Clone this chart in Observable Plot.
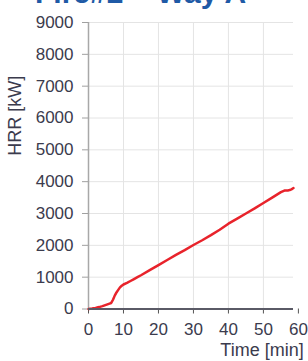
<!DOCTYPE html>
<html><head><meta charset="utf-8">
<script src="https://cdn.jsdelivr.net/npm/d3@7"></script>
<script src="https://cdn.jsdelivr.net/npm/@observablehq/plot@0.6"></script>
<style>
html,body{margin:0;background:#fff;overflow:hidden;width:308px;height:361px;font-family:"Liberation Sans",Arial,sans-serif}
#wrap{position:relative;width:308px;height:361px;overflow:hidden}
#title{position:absolute;left:35px;top:-24px;font:bold 30px "Liberation Sans",Arial,sans-serif;color:#1f5aa6;white-space:nowrap;z-index:2}
#chart{position:absolute;left:0;top:0;width:308px;height:361px}
</style></head><body><div id="wrap"><div id="title"></div><div id="chart"></div></div>
<script>
const title = "Fire#2 – Way A";
const xLabel = "Time [min]";
const yLabel = "HRR [kW]";
const xTicks = [0, 10, 20, 30, 40, 50, 60];
const yTicks = [0, 1000, 2000, 3000, 4000, 5000, 6000, 7000, 8000, 9000];
const timeMin = [0, 1, 2, 3, 4, 5, 6, 6.5, 7, 7.5, 8, 8.5, 9, 9.5, 10, 11, 12, 13, 14, 15, 17.5, 20, 22.5, 25, 27.5, 30, 32.5, 35, 37.5, 40, 42.5, 45, 47.5, 50, 52.5, 55, 56, 57, 57.5, 58, 58.6];
const hrrKW = [0, 15, 35, 60, 90, 130, 170, 190, 290, 420, 520, 600, 680, 730, 770, 820, 880, 940, 1000, 1060, 1220, 1380, 1540, 1700, 1850, 2010, 2160, 2320, 2490, 2680, 2840, 3000, 3160, 3330, 3500, 3670, 3720, 3725, 3735, 3760, 3800];

document.getElementById("title").textContent = title;
const data = timeMin.map((t, i) => ({t, v: hrrKW[i]}));
const xMax = 58.6;
const plot = Plot.plot({
  width: 308, height: 361,
  marginLeft: 88, marginRight: 15, marginTop: 22, marginBottom: 52.5,
  style: {fontFamily: "Liberation Sans, Arial, sans-serif", fontSize: "17px", color: "#3b3b4d", background: "transparent", overflow: "visible"},
  x: {domain: [0, xMax]},
  y: {domain: [0, 9000]},
  marks: [
    Plot.gridX(xTicks.filter(d => d > 0 && d <= xMax), {stroke: "#e4e4e4", strokeOpacity: 1}),
    Plot.gridY(yTicks.filter(d => d > 0), {stroke: "#e4e4e4", strokeOpacity: 1}),
    Plot.ruleX([0], {stroke: "#a8a8a8", strokeWidth: 1.5}),
    Plot.axisY(yTicks, {tickSize: 6, tickPadding: 9, stroke: "#a0a0a0", label: null, fontSize: 17, tickFormat: d => String(d)}),
    Plot.axisX(xTicks, {tickSize: 5, tickPadding: 9, stroke: "#555", label: null, fontSize: 17, tickFormat: d => String(d)}),
    Plot.line(data, {x: "t", y: "v", stroke: "#e8232b", strokeWidth: 2.5}),
    Plot.ruleY([0], {stroke: "#5a5a66", strokeWidth: 2}),
    Plot.text([yLabel], {frameAnchor: "left", rotate: -90, dx: -73, dy: -10, fontSize: 18, fill: "#3b3b4d"}),
    Plot.text([xLabel], {frameAnchor: "bottom", dx: 71, dy: 47, fontSize: 18, fill: "#3b3b4d", textAnchor: "middle"})
  ]
});
document.getElementById("chart").append(plot);
</script></body></html>
